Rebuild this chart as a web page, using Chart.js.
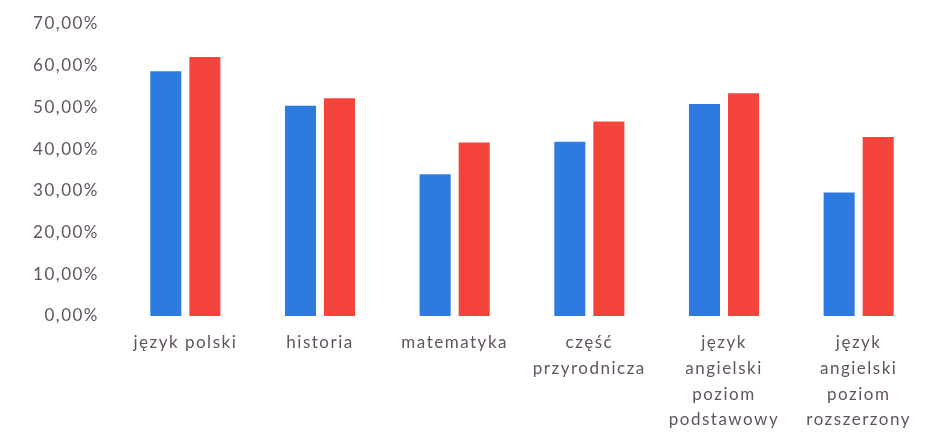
<!DOCTYPE html>
<html>
<head>
<meta charset="utf-8">
<script src="https://cdn.jsdelivr.net/npm/chart.js@4/dist/chart.umd.min.js"></script>
<style>
  html, body { margin: 0; padding: 0; background: #ffffff; }
  #wrap { width: 943px; height: 436px; }
</style>
</head>
<body>
<div id="wrap"><canvas id="chart" width="943" height="436"></canvas></div>
<script>
// categories (multi-line labels as arrays)
const categories = [
    'język polski',
    'historia',
    'matematyka',
    ['część', 'przyrodnicza'],
    ['język', 'angielski', 'poziom', 'podstawowy'],
    ['język', 'angielski', 'poziom', 'rozszerzony']
];

// series values in percent
const seriesBlue = [58.7, 50.4, 34.0, 41.8, 50.8, 29.6];
const seriesRed = [62.1, 52.2, 41.6, 46.6, 53.4, 42.9];

const yMin = 0;
const yMax = 70;
const yStep = 10;

const colors = {
    blue: '#2d7be0',
    red: '#f4443c',
    text: '#625363'
};

// the scanned labels look a bit stretched, so widen the letters a little
const letterSpacing = {
    id: 'letterSpacing',
    beforeUpdate: (chart) => { chart.ctx.letterSpacing = '1.5px'; },
    beforeDraw: (chart) => { chart.ctx.letterSpacing = '1.5px'; }
};

const chart = new Chart(document.getElementById('chart').getContext('2d'), {
    type: 'bar',
    data: {
        labels: categories,
        datasets: [
            {
                label: 'seria 1',
                data: seriesBlue,
                backgroundColor: colors.blue,
                categoryPercentage: 0.58,
                barPercentage: 0.795
            },
            {
                label: 'seria 2',
                data: seriesRed,
                backgroundColor: colors.red,
                categoryPercentage: 0.58,
                barPercentage: 0.795
            }
        ]
    },
    plugins: [letterSpacing],
    options: {
        responsive: false,
        animation: false,
        layout: {
            padding: { top: 24, right: 17, left: 0, bottom: 0 }
        },
        plugins: {
            legend: { display: false },
            title: { display: false },
            tooltip: { enabled: false }
        },
        scales: {
            x: {
                grid: { display: false, drawTicks: false },
                border: { display: false },
                ticks: {
                    color: colors.text,
                    autoSkip: false,
                    maxRotation: 0,
                    padding: 14,
                    font: { family: 'Lato', size: 17, lineHeight: 1.51 }
                },
                afterFit: (scale) => { scale.height = 120; }
            },
            y: {
                min: yMin,
                max: yMax,
                grid: { display: false, drawTicks: false },
                border: { display: false },
                ticks: {
                    stepSize: yStep,
                    color: colors.text,
                    padding: 19,
                    font: { family: 'Lato', size: 17 },
                    callback: (v) => v.toFixed(2).replace('.', ',') + '%'
                },
                afterFit: (scale) => {
                    scale.width = 118;
                    // tick padding would otherwise push the plot area down
                    scale.paddingTop = 0;
                    scale.paddingBottom = 0;
                }
            }
        }
    }
});
</script>
</body>
</html>
